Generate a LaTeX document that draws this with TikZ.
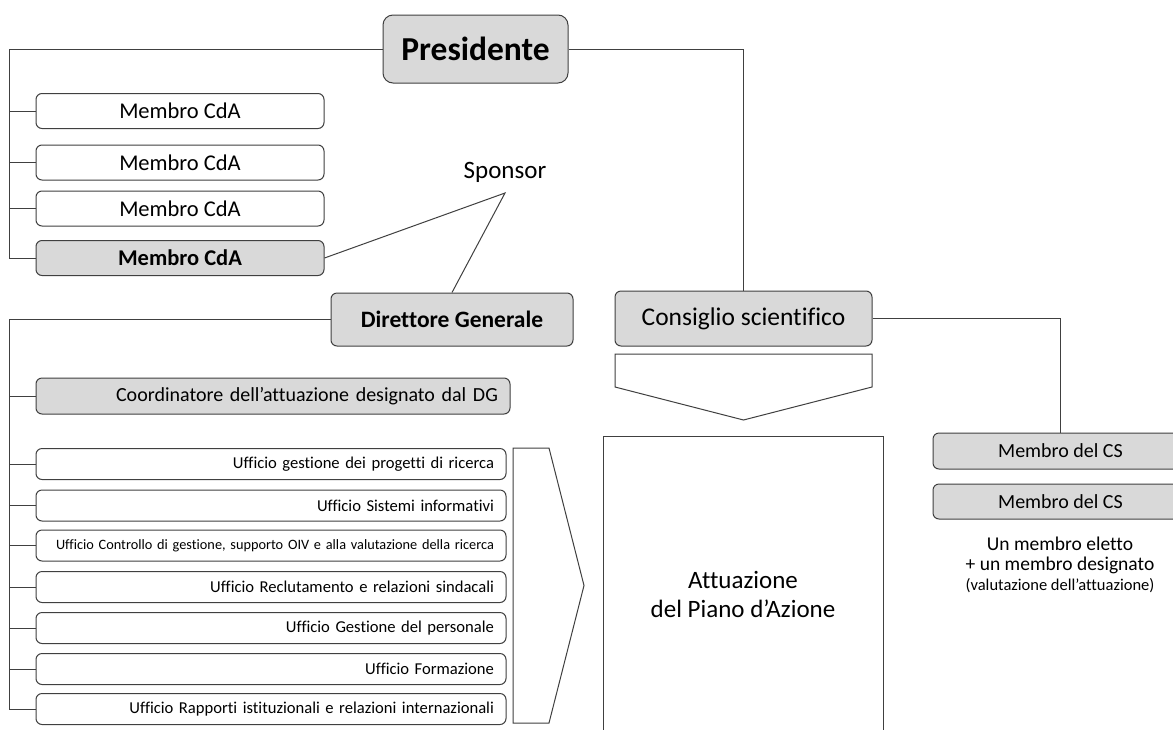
\documentclass[tikz,border=0pt]{standalone}
\usepackage{fontspec}
\setmainfont[Ligatures={NoCommon}]{Carlito}
\usetikzlibrary{positioning, calc}
\definecolor{lineGray}{RGB}{64, 64, 64}
\definecolor{fillGray}{RGB}{217, 217, 217}
\tikzset{
    % Base box style
    orgbox/.style={
        rectangle,
        rounded corners=6pt,
        draw=lineGray,
        line width=1pt,
        inner sep=0pt,
        align=center
    },
    % Role styles
    boxWhite/.style={orgbox, fill=white},
    boxGray/.style={orgbox, fill=fillGray},
    boxOffice/.style={orgbox, fill=white, minimum height=31pt, text width=446pt,
        inner xsep=12pt, align=right, font=\fontsize{16.6}{19}\selectfont},
    % Connector style
    conn/.style={draw=lineGray, line width=1pt},
    arrowShape/.style={draw=lineGray, line width=1pt, fill=white}
}

\begin{document}
\begin{tikzpicture}[x=1pt, y=-1pt]

    \clip (0,0) rectangle (1173,729);
    \fill[white] (0,0) rectangle (1173,729);

    % --- TOP ---
    \node (pres) [boxGray, rounded corners=10pt, minimum width=185pt, minimum height=68pt,
        font=\fontsize{33.5}{38}\selectfont\bfseries] at (475.5,49) {Presidente};

    % --- Board members ---
    \node (cda1) [boxWhite, minimum width=288pt, minimum height=35pt, font=\fontsize{22.5}{26}\selectfont] at (180,111) {Membro CdA};
    \node (cda2) [boxWhite, minimum width=288pt, minimum height=35pt, font=\fontsize{22.5}{26}\selectfont] at (180,162.5) {Membro CdA};
    \node (cda3) [boxWhite, minimum width=288pt, minimum height=35pt, font=\fontsize{22.5}{26}\selectfont] at (180,208.5) {Membro CdA};
    \node (cda4) [boxGray, minimum width=288pt, minimum height=35pt, font=\fontsize{22.5}{26}\selectfont\bfseries] at (180,258) {Membro CdA};

    % --- Sponsor ---
    \node (sponsor) [font=\fontsize{25}{30}\selectfont] at (505,172) {Sponsor};
    \coordinate (apex) at (505,193);

    % --- Director and council ---
    \node (dg) [boxGray, minimum width=242pt, minimum height=53pt,
        font=\fontsize{23.5}{28}\selectfont\bfseries] at (452,319.5) {Direttore Generale};
    \node (cs) [boxGray, minimum width=257pt, minimum height=55pt,
        font=\fontsize{25.5}{30}\selectfont] at (743.5,318.5) {Consiglio scientifico};

    % --- Coordinator ---
    \node (coord) [boxGray, minimum height=36pt, text width=450pt, inner xsep=12pt, align=right,
        font=\fontsize{20}{24}\selectfont] at (273,396) {Coordinatore dell’attuazione designato dal DG};

    % --- Offices ---
    \node (uff1) [boxOffice] at (271,464) {Ufficio gestione dei progetti di ricerca};
    \node (uff2) [boxOffice] at (271,505.5) {Ufficio Sistemi informativi};
    \node (uff3) [boxOffice, font=\fontsize{14.3}{17}\selectfont] at (271,545.5) {Ufficio Controllo di gestione, supporto OIV e alla valutazione della ricerca};
    \node (uff4) [boxOffice] at (271,587) {Ufficio Reclutamento e relazioni sindacali};
    \node (uff5) [boxOffice] at (271,628) {Ufficio Gestione del personale};
    \node (uff6) [boxOffice] at (271,669) {Ufficio Formazione};
    \node (uff7) [boxOffice] at (271,709) {Ufficio Rapporti istituzionali e relazioni internazionali};

    % --- Action plan ---
    \draw [arrowShape] (513,448) -- (549,448) -- (584,585.5) -- (549,723) -- (513,723) -- cycle;
    \draw [arrowShape] (615,354) -- (872,354) -- (872,387) -- (743.5,420) -- (615,387) -- cycle;
    \node (att) [rectangle, draw=lineGray, line width=1pt, minimum width=280pt, minimum height=330pt,
        anchor=north] at (743,436) {};
    \node (attText) [align=center, font=\fontsize{25}{29}\selectfont] at (743,594) {Attuazione\\del Piano d’Azione};

    % --- Council members ---
    \node (mcs1) [boxGray, minimum width=255pt, minimum height=36pt, font=\fontsize{20}{24}\selectfont] at (1060.5,451) {Membro del CS};
    \node (mcs2) [boxGray, minimum width=255pt, minimum height=35pt, font=\fontsize{20}{24}\selectfont] at (1060.5,501.5) {Membro del CS};
    \node (csNote) [align=center, font=\fontsize{19.5}{20}\selectfont] at (1060,565)
        {Un membro eletto\\+ un membro designato\\{\fontsize{16.5}{18}\selectfont(valutazione dell’attuazione)}};

    % --- Connectors ---
    \draw [conn] (pres.west) -| ($(cda4.west)+(-26,0)$) -- (cda4.west);
    \foreach \i in {1,2,3} {
        \draw [conn] (cda\i.west) -- ++(-26,0);
    }
    \draw [conn] (pres.east) -| (cs.north);
    \draw [conn] (cda4.east) -- (apex) -- (dg.north);
    \draw [conn] (dg.west) -| ($(uff7.west)+(-26,0)$) -- (uff7.west);
    \draw [conn] (coord.west) -- ++(-26,0);
    \foreach \i in {1,...,6} {
        \draw [conn] (uff\i.west) -- ++(-26,0);
    }
    \draw [conn] (cs.east) -| (mcs1.north);

\end{tikzpicture}
\end{document}
